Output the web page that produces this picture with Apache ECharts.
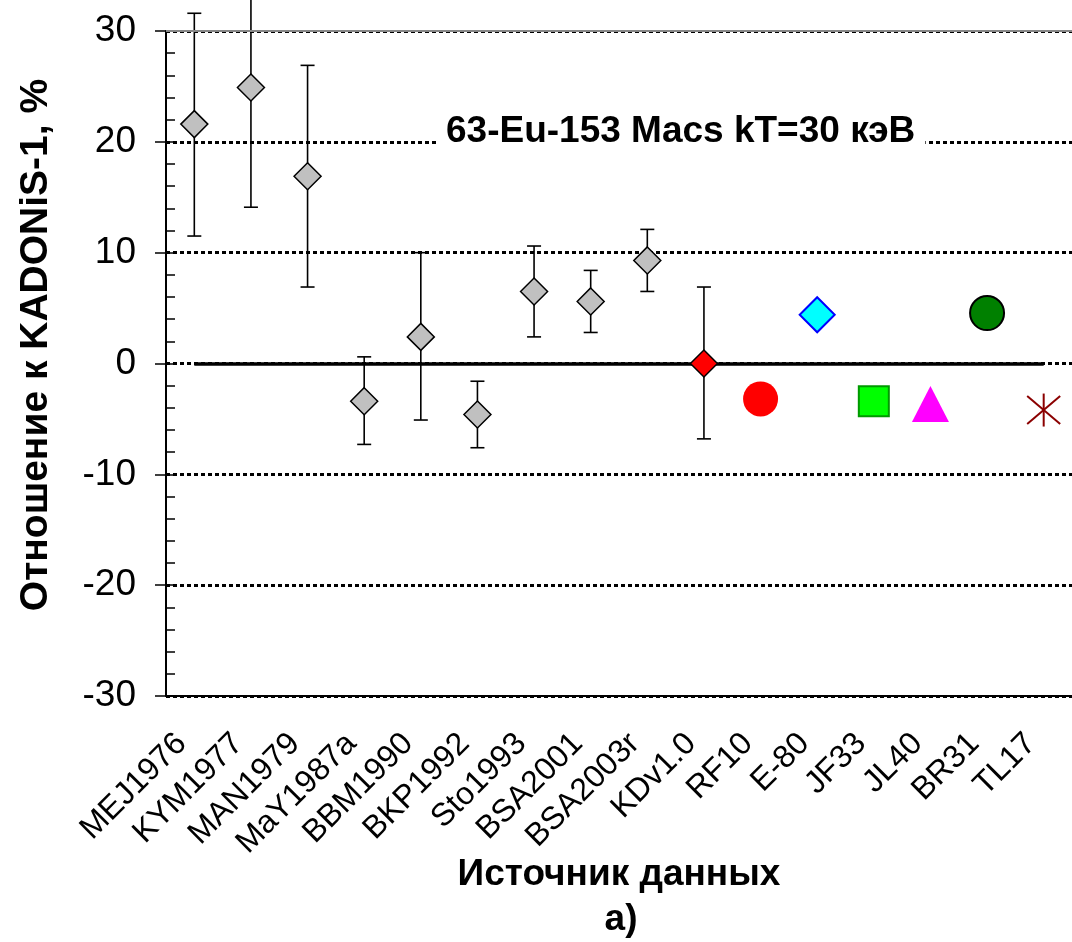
<!DOCTYPE html>
<html>
<head>
<meta charset="utf-8">
<script src="https://cdn.jsdelivr.net/npm/echarts@6/dist/echarts.min.js"></script>
<style>html,body{margin:0;padding:0;background:#fff;}#c{width:1072px;height:942px;}</style>
</head>
<body>
<div id="c"></div>
<script>
const categories = ['MEJ1976','KYM1977','MAN1979','MaY1987a','BBM1990','BKP1992','Sto1993','BSA2001','BSA2003r','KDv1.0','RF10','E-80','JF33','JL40','BR31','TL17'];
const expCats = ['MEJ1976','KYM1977','MAN1979','MaY1987a','BBM1990','BKP1992','Sto1993','BSA2001','BSA2003r'];
const expValues = [21.6, 24.9, 16.9, -3.4, 2.4, -4.6, 6.5, 5.6, 9.3];
const expLow = [11.5, 14.1, 6.9, -7.3, -5.1, -7.6, 2.4, 2.8, 6.5];
const expHigh = [31.6, 35.7, 26.9, 0.6, 10.0, -1.6, 10.6, 8.4, 12.1];
const kadValue = 0.0, kadLow = -6.8, kadHigh = 6.9;
const libRF10 = -3.2, libE80 = 4.4, libJF33 = -3.4, libJL40 = -3.65, libBR31 = 4.55, libTL17 = -4.2;
const yTicks = [-30, -20, -10, 0, 10, 20, 30];

const FONT = "'Liberation Sans', Arial, sans-serif";
const chart = echarts.init(document.getElementById('c'), null, {renderer: 'canvas'});

const errData = expCats.map((c, i) => [categories.indexOf(c), expLow[i], expHigh[i]]);
errData.push([categories.indexOf('KDv1.0'), kadLow, kadHigh]);

function renderErr(params, api) {
  const x = api.value(0);
  const lo = api.coord([x, api.value(1)]);
  const hi = api.coord([x, api.value(2)]);
  const cw = 7;
  const st = {stroke: '#000', lineWidth: 1.6};
  return {type: 'group', children: [
    {type: 'line', shape: {x1: lo[0], y1: lo[1], x2: hi[0], y2: hi[1]}, style: st},
    {type: 'line', shape: {x1: lo[0]-cw, y1: lo[1], x2: lo[0]+cw, y2: lo[1]}, style: st},
    {type: 'line', shape: {x1: hi[0]-cw, y1: hi[1], x2: hi[0]+cw, y2: hi[1]}, style: st}
  ]};
}

function renderStar(params, api) {
  const p = api.coord([api.value(0), api.value(1)]);
  const r = 16.5;
  const st = {stroke: '#8b0000', lineWidth: 2};
  return {type: 'group', children: [
    {type: 'line', shape: {x1: p[0], y1: p[1]-r, x2: p[0], y2: p[1]+r}, style: st},
    {type: 'line', shape: {x1: p[0]-r, y1: p[1]-r*0.85, x2: p[0]+r, y2: p[1]+r*0.85}, style: st},
    {type: 'line', shape: {x1: p[0]-r, y1: p[1]+r*0.85, x2: p[0]+r, y2: p[1]-r*0.85}, style: st}
  ]};
}

const option = {
  backgroundColor: '#fff',
  animation: false,
  textStyle: {fontFamily: FONT},
  title: {
    text: '63-Eu-153 Macs kT=30 кэВ',
    left: 436, top: 110,
    padding: [3, 10],
    backgroundColor: '#fff',
    textStyle: {fontFamily: FONT, fontSize: 37, fontWeight: 'bold', color: '#000'}
  },
  grid: {left: 166, top: 31, width: 910, height: 665, containLabel: false},
  xAxis: {
    type: 'category', data: categories, boundaryGap: true,
    axisLine: {onZero: false, lineStyle: {color: '#000', width: 2}},
    axisTick: {length: 10, lineStyle: {color: '#000', width: 1.5}},
    axisLabel: {rotate: 45, interval: 0, margin: 30, fontSize: 32, color: '#000', fontFamily: FONT, padding: [0, 18, 0, 0]},
    splitLine: {show: false},
    name: 'Источник данных', nameLocation: 'middle', nameGap: 160, nameMoveOverlap: false,
    nameTextStyle: {fontSize: 37, fontWeight: 'bold', color: '#000', fontFamily: FONT}
  },
  yAxis: [{
    type: 'value', min: yTicks[0], max: yTicks[yTicks.length-1], interval: 10,
    axisLine: {show: true, lineStyle: {color: '#000', width: 2}},
    axisTick: {show: true, length: 11, lineStyle: {color: '#000', width: 1.5}},
    axisLabel: {fontSize: 37, margin: 30, color: '#000', fontFamily: FONT},
    splitLine: {show: true, lineStyle: {color: '#000', width: 3, type: [4, 3]}}
  }, {
    type: 'value', min: yTicks[0], max: yTicks[yTicks.length-1], interval: 2, position: 'left',
    axisLine: {show: false},
    axisTick: {show: true, inside: true, length: 9, lineStyle: {color: '#000', width: 1.5}},
    axisLabel: {show: false},
    splitLine: {show: false}
  }],
  graphic: [
    {type: 'text', x: 36, y: 345, rotation: Math.PI/2, z: 10,
     style: {text: 'Отношение к KADONiS-1, %', textAlign: 'center', textVerticalAlign: 'middle',
             font: "bold 39px 'Liberation Sans', Arial, sans-serif", fill: '#000'}},
    {type: 'text', x: 621, y: 920, z: 10,
     style: {text: 'а)', textAlign: 'center', textVerticalAlign: 'middle',
             font: "bold 37px 'Liberation Sans', Arial, sans-serif", fill: '#000'}}
  ],
  series: [
    {
      type: 'line', data: [], z: 1, silent: true,
      markLine: {
        silent: true, symbol: 'none', label: {show: false}, animation: false,
        data: [
          {yAxis: 30, lineStyle: {color: '#888', width: 2, type: 'solid'}},
          [{coord: [categories[0], 0], lineStyle: {color: '#000', width: 3.5, type: 'solid'}},
           {coord: [categories[categories.length-1], 0]}]
        ]
      }
    },
    {type: 'custom', renderItem: renderErr, data: errData, z: 3, clip: false, silent: true},
    {type: 'scatter', z: 5, symbol: 'diamond', symbolSize: 27,
     itemStyle: {color: '#c0c0c0', borderColor: '#000', borderWidth: 1.5, opacity: 1},
     data: expCats.map((c, i) => [c, expValues[i]])},
    {type: 'scatter', z: 5, symbol: 'diamond', symbolSize: 27,
     itemStyle: {color: '#ff0000', borderColor: '#000', borderWidth: 1.5, opacity: 1},
     data: [['KDv1.0', kadValue]]},
    {type: 'scatter', z: 5, symbol: 'circle', symbolSize: 35,
     itemStyle: {color: '#ff0000', opacity: 1}, data: [['RF10', libRF10]]},
    {type: 'scatter', z: 5, symbol: 'diamond', symbolSize: 35,
     itemStyle: {color: '#00ffff', borderColor: '#0000ff', borderWidth: 2, opacity: 1}, data: [['E-80', libE80]]},
    {type: 'scatter', z: 5, symbol: 'rect', symbolSize: 30,
     itemStyle: {color: '#00ff00', borderColor: '#009900', borderWidth: 2, opacity: 1}, data: [['JF33', libJF33]]},
    {type: 'scatter', z: 5, symbol: 'triangle', symbolSize: [37, 36],
     itemStyle: {color: '#ff00ff', opacity: 1}, data: [['JL40', libJL40]]},
    {type: 'scatter', z: 5, symbol: 'circle', symbolSize: 34,
     itemStyle: {color: '#008000', borderColor: '#000', borderWidth: 2, opacity: 1}, data: [['BR31', libBR31]]},
    {type: 'custom', renderItem: renderStar, z: 5, silent: true, data: [[categories.indexOf('TL17'), libTL17]]}
  ]
};
chart.setOption(option);
</script>
</body>
</html>
